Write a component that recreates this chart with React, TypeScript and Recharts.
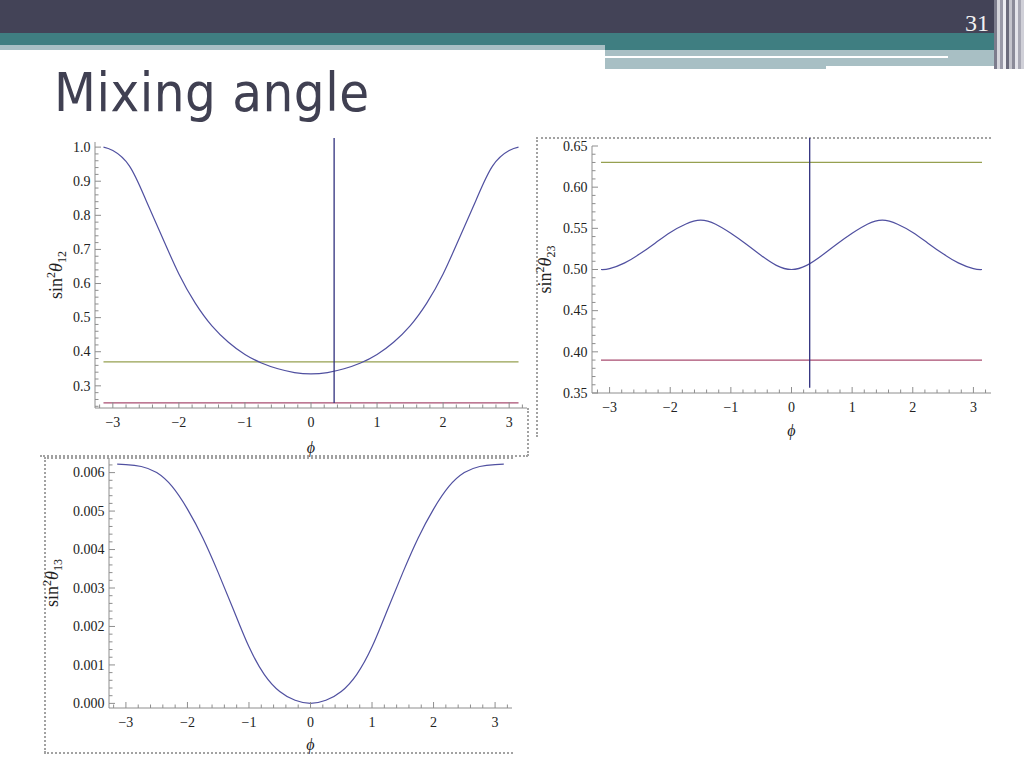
import React from "react";
import { LineChart, Line, XAxis, YAxis, ReferenceLine } from "recharts";

// phase phi and the three mixing-angle curves
const phi = [
  -3.1416, -3, -2.75, -2.5, -2.25, -2, -1.75, -1.5, -1.25, -1, -0.75, -0.5, -0.25, 0,
  0.25, 0.5, 0.75, 1, 1.25, 1.5, 1.75, 2, 2.25, 2.5, 2.75, 3, 3.1416,
];
const sin2Theta12 = [
  1.0, 0.99, 0.945, 0.845, 0.735, 0.628, 0.542, 0.476, 0.428, 0.392, 0.367, 0.35, 0.339, 0.335,
  0.339, 0.35, 0.367, 0.392, 0.428, 0.476, 0.542, 0.628, 0.735, 0.845, 0.945, 0.99, 1.0,
];
const sin2Theta23 = [
  0.5, 0.501, 0.508, 0.519, 0.532, 0.545, 0.555, 0.56, 0.555, 0.544, 0.531, 0.517, 0.505, 0.5,
  0.505, 0.517, 0.531, 0.544, 0.555, 0.56, 0.555, 0.545, 0.532, 0.519, 0.508, 0.501, 0.5,
];
const sin2Theta13 = [
  0.00622, 0.00621, 0.00616, 0.006, 0.00564, 0.00505, 0.0043, 0.0034, 0.00243, 0.00147, 0.00075,
  0.00031, 0.00008, 0, 0.00008, 0.00031, 0.00075, 0.00147, 0.00243, 0.0034, 0.0043, 0.00505,
  0.00564, 0.006, 0.00616, 0.00621, 0.00622,
];

// horizontal bounds [upper, lower] and the vertical marker
const bounds12 = [0.37, 0.25];
const bounds23 = [0.63, 0.39];
const marker12 = 0.35;
const marker23 = 0.3;

const xMajor = [-3, -2, -1, 0, 1, 2, 3];
const yMajor12 = [0.3, 0.4, 0.5, 0.6, 0.7, 0.8, 0.9, 1.0];
const yMajor23 = [0.35, 0.4, 0.45, 0.5, 0.55, 0.6, 0.65];
const yMajor13 = [0, 0.001, 0.002, 0.003, 0.004, 0.005, 0.006];

const FRAME = "#8e8e8e";
const SERIF = '"Liberation Serif", "DejaVu Serif", serif';
const CURVE = "#5050a0";
const GREEN = "#96a050";
const RED = "#a84c70";
const MARK = "#30307e";

const PI = 3.1416;

function stepTicks(lo: number, hi: number, step: number) {
  const out: number[] = [];
  for (let k = Math.ceil(lo / step - 1e-9); k <= Math.floor(hi / step + 1e-9); k++) {
    out.push(Math.round(k * step * 1e9) / 1e9);
  }
  return out;
}

const isMajor = (v: number, majors: number[]) => majors.some((m) => Math.abs(m - v) < 1e-9);
const fmtX = (v: number) => (v < 0 ? "\u2212" + Math.abs(v) : String(v));

type PanelProps = {
  frame: { l: number; r: number; t: number; b: number };
  values: number[];
  xDomain: [number, number];
  yDomain: [number, number];
  yMajor: number[];
  yStep: number;
  digits: number;
  sub: string;
  labelGap: number;
  xLabelDy: number;
  bounds?: number[];
  marker?: number;
  markerSpan?: [number, number];
};

const LEFT_W = 70;
const BOTTOM_H = 52;
const PAD = 8;
const MAJOR_LEN = 6;
const MINOR_LEN = 3.5;

function Panel(p: PanelProps) {
  const data = phi.map((x, i) => ({ phi: x, v: p.values[i] }));
  const xTicks = stepTicks(p.xDomain[0], p.xDomain[1], 0.2);
  const yTicks = stepTicks(p.yDomain[0], p.yDomain[1], p.yStep);
  const plotW = p.frame.r - p.frame.l;
  const plotH = p.frame.b - p.frame.t;

  const bottomTick = (t: any) => {
    const major = isMajor(t.payload.value, xMajor);
    return (
      <g>
        <line x1={t.x} x2={t.x} y1={t.y} y2={t.y - (major ? MAJOR_LEN : MINOR_LEN)} stroke={FRAME} />
        {major && (
          <text x={t.x} y={t.y + 19} textAnchor="middle" fontFamily={SERIF} fontSize={14} fill="#222">
            {fmtX(t.payload.value)}
          </text>
        )}
      </g>
    );
  };
  const topTick = (t: any) => {
    const major = isMajor(t.payload.value, xMajor);
    return <line x1={t.x} x2={t.x} y1={t.y} y2={t.y + (major ? MAJOR_LEN : MINOR_LEN)} stroke={FRAME} />;
  };
  const leftTick = (t: any) => {
    const major = isMajor(t.payload.value, p.yMajor);
    return (
      <g>
        <line x1={t.x} x2={t.x + (major ? MAJOR_LEN : MINOR_LEN)} y1={t.y} y2={t.y} stroke={FRAME} />
        {major && (
          <text x={t.x - 4.5} y={t.y} dy="0.34em" textAnchor="end" fontFamily={SERIF} fontSize={14} fill="#222">
            {t.payload.value.toFixed(p.digits)}
          </text>
        )}
      </g>
    );
  };
  const rightTick = (t: any) => {
    const major = isMajor(t.payload.value, p.yMajor);
    return <line x1={t.x} x2={t.x - (major ? MAJOR_LEN : MINOR_LEN)} y1={t.y} y2={t.y} stroke={FRAME} />;
  };

  const yLabel = (props: any) => {
    const vb = props.viewBox;
    const cx = vb.x + vb.width - p.labelGap + 5;
    const cy = vb.y + vb.height / 2;
    return (
      <text transform={`translate(${cx},${cy}) rotate(-90)`} textAnchor="middle" fontFamily={SERIF} fontSize={18} fill="#222">
        sin
        <tspan dy={-7} fontSize={12}>2</tspan>
        <tspan dy={7} fontStyle="italic">θ</tspan>
        <tspan dy={4} fontSize={12}>{p.sub}</tspan>
      </text>
    );
  };
  const xLabel = (props: any) => {
    const vb = props.viewBox;
    return (
      <text x={vb.x + vb.width / 2} y={vb.y + p.xLabelDy} textAnchor="middle" fontFamily={SERIF} fontStyle="italic" fontSize={16} fill="#222">
        ϕ
      </text>
    );
  };

  return (
    <div style={{ position: "absolute", left: p.frame.l - LEFT_W, top: p.frame.t - PAD }}>
      <LineChart
        width={plotW + LEFT_W + PAD}
        height={plotH + PAD + BOTTOM_H}
        data={data}
        margin={{ top: PAD, right: PAD, bottom: 0, left: 0 }}
        style={{ overflow: "visible" }}
      >
        <XAxis
          dataKey="phi"
          type="number"
          domain={p.xDomain}
          allowDataOverflow
          ticks={xTicks}
          interval={0}
          tick={bottomTick}
          tickLine={false}
          tickSize={0}
          tickMargin={0}
          axisLine={{ stroke: FRAME }}
          height={BOTTOM_H}
          label={xLabel}
        />
        <XAxis
          xAxisId="top"
          orientation="top"
          dataKey="phi"
          type="number"
          domain={p.xDomain}
          allowDataOverflow
          ticks={xTicks}
          interval={0}
          tick={topTick}
          tickLine={false}
          tickSize={0}
          tickMargin={0}
          axisLine={{ stroke: FRAME }}
          height={0}
        />
        <YAxis
          type="number"
          domain={p.yDomain}
          allowDataOverflow
          ticks={yTicks}
          interval={0}
          tick={leftTick}
          tickLine={false}
          tickSize={0}
          tickMargin={0}
          axisLine={{ stroke: FRAME }}
          width={LEFT_W}
          label={yLabel}
        />
        <YAxis
          yAxisId="right"
          orientation="right"
          type="number"
          domain={p.yDomain}
          allowDataOverflow
          ticks={yTicks}
          interval={0}
          tick={rightTick}
          tickLine={false}
          tickSize={0}
          tickMargin={0}
          axisLine={{ stroke: FRAME }}
          width={0}
        />
        {p.bounds && (
          <ReferenceLine
            segment={[{ x: -PI, y: p.bounds[0] }, { x: PI, y: p.bounds[0] }]}
            stroke={GREEN}
            strokeWidth={1.2}
          />
        )}
        {p.bounds && (
          <ReferenceLine
            segment={[{ x: -PI, y: p.bounds[1] }, { x: PI, y: p.bounds[1] }]}
            stroke={RED}
            strokeWidth={1.2}
          />
        )}
        <Line
          type="natural"
          dataKey="v"
          stroke={CURVE}
          strokeWidth={1.2}
          dot={false}
          activeDot={false}
          isAnimationActive={false}
        />
        <Line
          xAxisId="top"
          yAxisId="right"
          dataKey="v"
          stroke="none"
          dot={false}
          activeDot={false}
          isAnimationActive={false}
        />
        {p.marker !== undefined && p.markerSpan && (
          <ReferenceLine
            segment={[{ x: p.marker, y: p.markerSpan[0] }, { x: p.marker, y: p.markerSpan[1] }]}
            stroke={MARK}
            strokeWidth={1.3}
            ifOverflow="visible"
          />
        )}
      </LineChart>
    </div>
  );
}

const box = (style: React.CSSProperties): React.CSSProperties => ({ position: "absolute", ...style });
const DOT = "2px dotted #a2a2a2";
const stripes = ["#7c7c8c", "#d6d6dc", "#9a9aa8", "#eeeef2", "#6c6c7c", "#c4c4cc", "#8a8a98", "#e4e4ea", "#a8a8b4", "#d0d0d8"];

export default function App() {
  return (
    <div style={{ position: "absolute", left: 0, top: 0, width: 1024, height: 768, background: "#fff", overflow: "hidden" }}>
      {/* slide header */}
      <div style={box({ left: 0, top: 0, width: 1024, height: 34, background: "#434357" })} />
      <div style={box({ left: 0, top: 33, width: 996, height: 12, background: "#3f7e81" })} />
      <div style={box({ left: 605, top: 44, width: 390, height: 6, background: "#3f7e81" })} />
      <div style={box({ left: 0, top: 45, width: 605, height: 5, background: "#a8bfc4" })} />
      <div style={box({ left: 605, top: 50, width: 343, height: 6, background: "#a8bfc4" })} />
      <div style={box({ left: 948, top: 50, width: 48, height: 16, background: "#a8bfc4" })} />
      <div style={box({ left: 605, top: 58, width: 221, height: 11, background: "#a8bfc4" })} />
      <div style={box({ left: 826, top: 58, width: 170, height: 8, background: "#a8bfc4" })} />
      {stripes.map((c, i) => (
        <div key={i} style={box({ left: 994 + i * 3, top: 0, width: 3, height: 69, background: c })} />
      ))}
      <div style={box({ left: 965, top: 10, fontFamily: SERIF, fontSize: 24, color: "#f2f2f2" })}>31</div>
      <div
        style={box({
          left: 54,
          top: 66,
          fontFamily: '"DejaVu Sans Condensed", "DejaVu Sans", sans-serif',
          fontStretch: "condensed",
          fontSize: 54,
          letterSpacing: 0.5,
          lineHeight: "54px",
          color: "#404052",
        })}
      >
        Mixing angle
      </div>

      {/* dotted picture borders */}
      <div style={box({ left: 40, top: 455, width: 488, borderTop: DOT })} />
      <div style={box({ left: 527, top: 408, height: 48, borderLeft: DOT })} />
      <div style={box({ left: 536, top: 137, width: 455, borderTop: DOT })} />
      <div style={box({ left: 536, top: 137, height: 300, borderLeft: DOT })} />
      <div style={box({ left: 44, top: 457, width: 469, borderTop: DOT })} />
      <div style={box({ left: 44, top: 457, height: 296, borderLeft: DOT })} />
      <div style={box({ left: 44, top: 752, width: 469, borderTop: DOT })} />

      <Panel
        frame={{ l: 95, r: 527, t: 142, b: 408 }}
        values={sin2Theta12}
        xDomain={[-3.27, 3.27]}
        yDomain={[0.235, 1.015]}
        yMajor={yMajor12}
        yStep={0.02}
        digits={1}
        sub="12"
        labelGap={38}
        xLabelDy={45}
        bounds={bounds12}
        marker={marker12}
        markerSpan={[0.25, 1.027]}
      />
      <Panel
        frame={{ l: 592, r: 991, t: 146, b: 393 }}
        values={sin2Theta23}
        xDomain={[-3.29, 3.29]}
        yDomain={[0.35, 0.65]}
        yMajor={yMajor23}
        yStep={0.01}
        digits={2}
        sub="23"
        labelGap={46}
        xLabelDy={43}
        bounds={bounds23}
        marker={marker23}
        markerSpan={[0.3565, 0.66]}
      />
      <Panel
        frame={{ l: 109, r: 512, t: 458, b: 708 }}
        values={sin2Theta13}
        xDomain={[-3.275, 3.275]}
        yDomain={[-0.00012, 0.00638]}
        yMajor={yMajor13}
        yStep={0.0002}
        digits={3}
        sub="13"
        labelGap={56}
        xLabelDy={42}
      />
    </div>
  );
}
